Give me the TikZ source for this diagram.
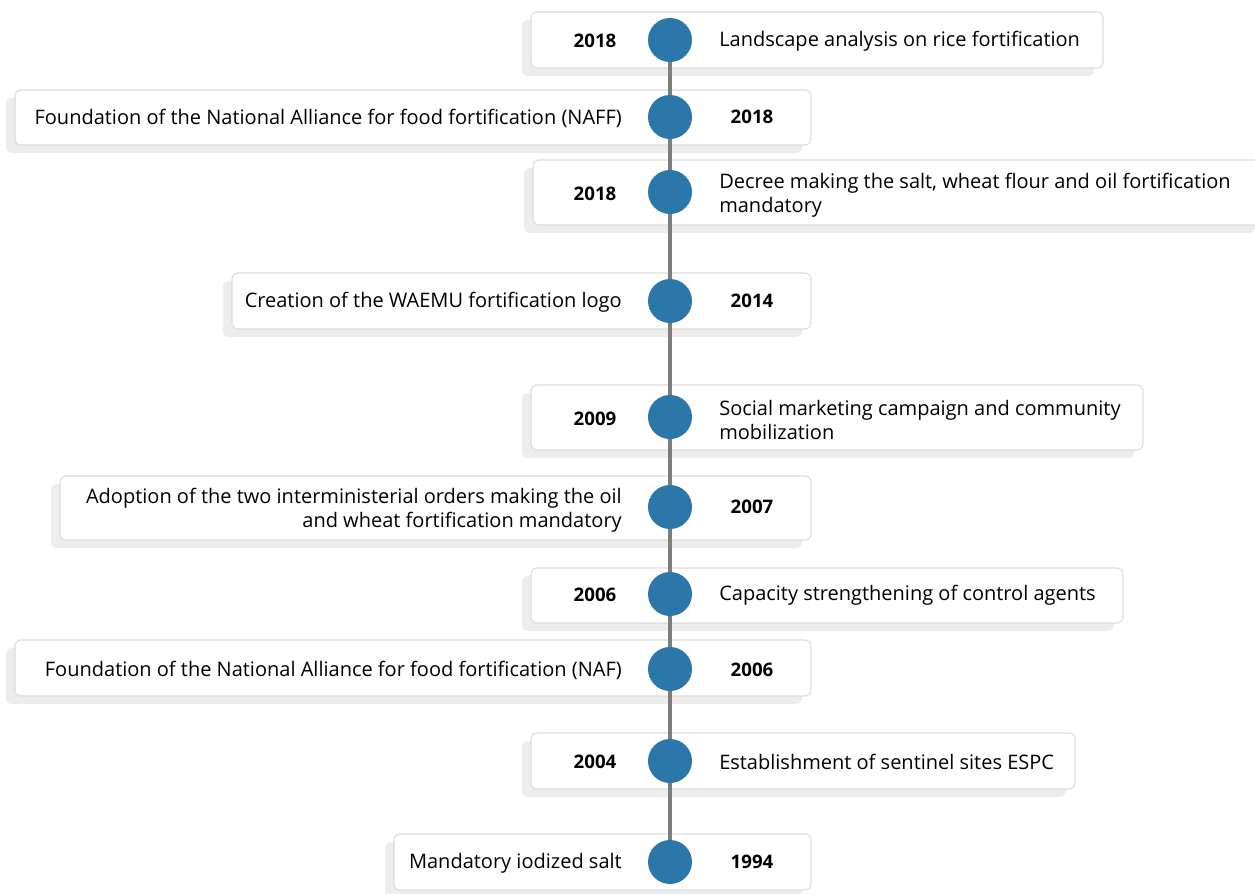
\documentclass[tikz,border=0pt]{standalone}
\usepackage{fontspec}
\setmainfont{Open Sans}
\usepackage{tikz}
\usetikzlibrary{positioning, calc, fit, shadows}
\usepackage{xcolor}
\definecolor{dot-blue}{RGB}{43,119,169}
\definecolor{line-gray}{RGB}{125,125,125}
\definecolor{box-border}{RGB}{220,220,220}
\definecolor{box-shadow}{RGB}{237,237,237}

\tikzset{
	box/.style={draw=box-border, fill=white, rounded corners=4.5pt, inner sep=0pt, line width=0.8pt,
		drop shadow={shadow xshift=-6.75pt, shadow yshift=-6pt, fill=box-shadow, opacity=1}},
	dot/.style={circle, fill=dot-blue, minimum size=33pt, inner sep=0pt},
	yr/.style={font=\fontsize{14}{18}\selectfont\bfseries},
	txt/.style={font=\fontsize{15}{18}\selectfont, inner sep=0pt},
	tl/.style={line-gray, line width=2.4pt}
}

\begin{document}
\begin{tikzpicture}[x=0.75pt, y=-0.75pt]
					\useasboundingbox (0,0) rectangle (1255,893);
					\clip (0,0) rectangle (1255,893);
					
					% boxes
					\node[box, fit={(531,12) (1103,68)}] (b1) {};
					\node[box, fit={(15,90) (811,145)}] (b2) {};
					\node[box, fit={(533,160) (1264,225)}] (b3) {};
					\node[box, fit={(232,273) (811,329)}] (b4) {};
					\node[box, fit={(531,385) (1143,450)}] (b5) {};
					\node[box, fit={(60,476) (811,540)}] (b6) {};
					\node[box, fit={(531,568) (1123,623)}] (b7) {};
					\node[box, fit={(15,640) (811,696)}] (b8) {};
					\node[box, fit={(531,733) (1075,789)}] (b9) {};
					\node[box, fit={(394,834) (811,890)}] (b10) {};
					
					% timeline
					\node[dot] at (670,40) (c1) {};
					\node[dot] at (670,117) (c2) {};
					\node[dot] at (670,192) (c3) {};
					\node[dot] at (670,301) (c4) {};
					\node[dot] at (670,417) (c5) {};
					\node[dot] at (670,507) (c6) {};
					\node[dot] at (670,594) (c7) {};
					\node[dot] at (670,669) (c8) {};
					\node[dot] at (670,761) (c9) {};
					\node[dot] at (670,862) (c10) {};
					\draw[tl] (c1) -- (c2);
					\draw[tl] (c2) -- (c3);
					\draw[tl] (c3) -- (c4);
					\draw[tl] (c4) -- (c5);
					\draw[tl] (c5) -- (c6);
					\draw[tl] (c6) -- (c7);
					\draw[tl] (c7) -- (c8);
					\draw[tl] (c8) -- (c9);
					\draw[tl] (c9) -- (c10);
					
					% years
					\node[yr] at (595,41) (y1) {2018};
					\node[yr] at (752,117) (y2) {2018};
					\node[yr] at (595,194) (y3) {2018};
					\node[yr] at (752,301) (y4) {2014};
					\node[yr] at (595,419) (y5) {2009};
					\node[yr] at (752,507) (y6) {2007};
					\node[yr] at (595,595) (y7) {2006};
					\node[yr] at (752,670) (y8) {2006};
					\node[yr] at (595,762) (y9) {2004};
					\node[yr] at (752,862) (y10) {1994};
					
					% events
					\node[txt, anchor=west] at (719,41) (t1) {Landscape analysis on rice fortification};
					\node[txt, anchor=east] at (622,118) (t2) {Foundation of the National Alliance for food fortification (NAFF)};
					\node[txt, anchor=west, align=left] at (719,195) (t3) {Decree making the salt, wheat flour and oil fortification\\mandatory};
					\node[txt, anchor=east] at (622,302) (t4) {Creation of the WAEMU fortification logo};
					\node[txt, anchor=west, align=left] at (719,420) (t5) {Social marketing campaign and community\\mobilization};
					\node[txt, anchor=east, align=right] at (622,510) (t6) {Adoption of the two interministerial orders making the oil\\and wheat fortification mandatory};
					\node[txt, anchor=west] at (719,595) (t7) {Capacity strengthening of control agents};
					\node[txt, anchor=east] at (622,670) (t8) {Foundation of the National Alliance for food fortification (NAF)};
					\node[txt, anchor=west] at (719,762) (t9) {Establishment of sentinel sites ESPC};
					\node[txt, anchor=east] at (622,863) (t10) {Mandatory iodized salt};
				\end{tikzpicture}
\end{document}
